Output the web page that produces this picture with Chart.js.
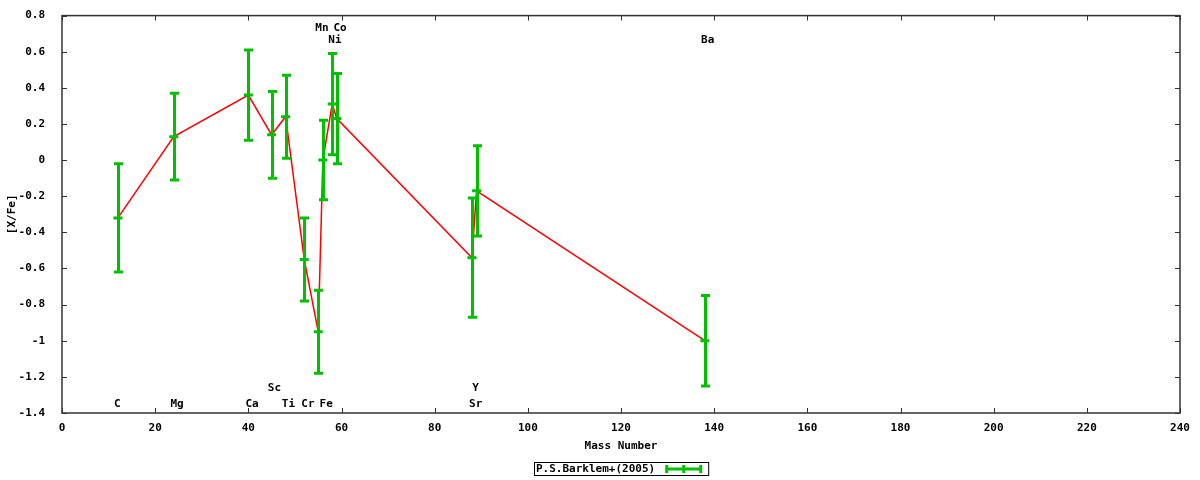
<!DOCTYPE html>
<html>
<head>
<meta charset="utf-8">
<script src="https://cdn.jsdelivr.net/npm/chart.js@4.4.1/dist/chart.umd.min.js"></script>
<style>
  html, body { margin: 0; padding: 0; background: #fff; }
  #wrap { width: 1200px; height: 480px; }
</style>
</head>
<body>
<div id="wrap"><canvas id="abundChart" width="1200" height="480"></canvas></div>
<script>
// element abundances vs mass number
const elements = ['C', 'Mg', 'Ca', 'Sc', 'Ti', 'Cr', 'Mn', 'Fe', 'Ni', 'Co', 'Sr', 'Y', 'Ba'];
const masses   = [12, 24, 40, 45, 48, 52, 55, 56, 58, 59, 88, 89, 138];
const xFe      = [-0.32, 0.13, 0.36, 0.14, 0.24, -0.55, -0.95, 0.00, 0.31, 0.23, -0.54, -0.17, -1.00];
const xFeErr   = [0.30, 0.24, 0.25, 0.24, 0.23, 0.23, 0.23, 0.22, 0.28, 0.25, 0.33, 0.25, 0.25];

// element name labels (data coordinates)
const labelX = [11.9, 24.7, 40.8, 45.6, 48.6, 52.8, 55.8, 56.7, 58.6, 59.7, 88.8, 88.8, 138.6];
const labelY = [-1.35, -1.35, -1.35, -1.26, -1.35, -1.35, 0.73, -1.35, 0.665, 0.73, -1.35, -1.26, 0.665];

const xTicks = [0, 20, 40, 60, 80, 100, 120, 140, 160, 180, 200, 220, 240];
const yTicks = [0.8, 0.6, 0.4, 0.2, 0, -0.2, -0.4, -0.6, -0.8, -1, -1.2, -1.4];

const seriesName = 'P.S.Barklem+(2005)';
const GREEN = '#00c000';
const FONT = 'bold 11px "DejaVu Sans Mono"';

Chart.defaults.font.family = '"DejaVu Sans Mono"';
Chart.defaults.font.size = 11;
Chart.defaults.font.weight = 'bold';
Chart.defaults.color = '#000';

const pts = masses.map((m, i) => ({ x: m, y: xFe[i] }));

// frame, inward ticks, error bars, labels, titles and legend
const gnuplotLook = {
    id: 'gnuplotLook',
    afterDatasetsDraw(chart) {
        const c = chart.ctx;
        const xs = chart.scales.x, ys = chart.scales.y;
        c.save();
        // error bars
        c.strokeStyle = GREEN;
        c.lineWidth = 3;
        c.lineCap = 'butt';
        masses.forEach((m, i) => {
            const px = Math.round(xs.getPixelForValue(m)) + 0.5;
            const top = ys.getPixelForValue(xFe[i] + xFeErr[i]);
            const bot = ys.getPixelForValue(xFe[i] - xFeErr[i]);
            c.beginPath();
            c.moveTo(px, top); c.lineTo(px, bot);
            c.moveTo(px - 4.5, top); c.lineTo(px + 4.5, top);
            c.moveTo(px - 4.5, bot); c.lineTo(px + 4.5, bot);
            c.stroke();
        });
        c.restore();
    },
    afterDraw(chart) {
        const c = chart.ctx, a = chart.chartArea;
        const xs = chart.scales.x, ys = chart.scales.y;
        c.save();
        // frame
        c.strokeStyle = '#333';
        c.lineWidth = 1.5;
        c.strokeRect(a.left, a.top, a.right - a.left, a.bottom - a.top);
        // inward ticks, mirrored
        c.lineWidth = 1;
        c.beginPath();
        xTicks.forEach(v => {
            const px = Math.round(xs.getPixelForValue(v)) + 0.5;
            c.moveTo(px, a.bottom); c.lineTo(px, a.bottom - 5);
            c.moveTo(px, a.top); c.lineTo(px, a.top + 5);
        });
        yTicks.forEach(v => {
            const py = Math.round(ys.getPixelForValue(v)) + 0.5;
            c.moveTo(a.left, py); c.lineTo(a.left + 5, py);
            c.moveTo(a.right, py); c.lineTo(a.right - 5, py);
        });
        c.stroke();

        // element labels
        c.fillStyle = '#000';
        c.font = FONT;
        c.textAlign = 'center';
        c.textBaseline = 'middle';
        elements.forEach((el, i) => {
            c.fillText(el, xs.getPixelForValue(labelX[i]), ys.getPixelForValue(labelY[i]));
        });

        // axis titles
        const cx = (a.left + a.right) / 2;
        c.fillText('Mass Number', cx, 446);
        c.save();
        c.translate(12, (a.top + a.bottom) / 2);
        c.rotate(-Math.PI / 2);
        c.fillText('[X/Fe]', 0, 0);
        c.restore();

        // legend: text then errorbar sample, inside a box
        const tw = c.measureText(seriesName).width;
        const sampleW = 37, gap = 10;
        const boxW = tw + gap + sampleW + 8;
        const bx = Math.round(cx - boxW / 2), by = 462, bh = 13;
        c.strokeStyle = '#000';
        c.lineWidth = 1;
        c.strokeRect(bx + 0.5, by + 0.5, boxW, bh);
        c.textAlign = 'left';
        c.fillText(seriesName, bx + 2, by + bh / 2 + 1);
        const sx0 = bx + 2 + tw + gap, sx1 = sx0 + sampleW, sy = by + bh / 2 + 0.5;
        c.strokeStyle = GREEN;
        c.lineWidth = 3;
        c.beginPath();
        c.moveTo(sx0, sy); c.lineTo(sx1, sy);
        [sx0 + 1.5, (sx0 + sx1) / 2, sx1 - 1.5].forEach(x => {
            c.moveTo(x, sy - 4); c.lineTo(x, sy + 4);
        });
        c.stroke();
        c.restore();
    }
};

new Chart(document.getElementById('abundChart'), {
    type: 'scatter',
    data: {
        datasets: [{
            label: seriesName,
            data: pts,
            showLine: false,
            pointStyle: 'line',
            pointRadius: 4.5,
            pointBorderWidth: 3,
            borderColor: GREEN,
            backgroundColor: GREEN,
            order: 1
        }, {
            label: 'trend',
            data: pts,
            showLine: true,
            borderColor: '#ff0000',
            borderWidth: 1.5,
            pointRadius: 0,
            fill: false,
            order: 2
        }]
    },
    options: {
        responsive: false,
        animation: false,
        layout: { padding: { top: 14, right: 20, bottom: 0, left: 0 } },
        plugins: {
            legend: { display: false },
            tooltip: { enabled: false }
        },
        scales: {
            x: {
                type: 'linear',
                min: 0,
                max: 240,
                grid: { display: false },
                border: { display: false },
                ticks: { stepSize: 20, padding: 1, maxRotation: 0 },
                afterFit(s) { s.height = 67; }
            },
            y: {
                min: -1.4,
                max: 0.8,
                grid: { display: false },
                border: { display: false },
                ticks: {
                    stepSize: 0.2,
                    padding: 9,
                    callback: v => String(Number(v.toFixed(1)))
                },
                afterFit(s) { s.width = 62; }
            }
        }
    },
    plugins: [gnuplotLook]
});
</script>
</body>
</html>
